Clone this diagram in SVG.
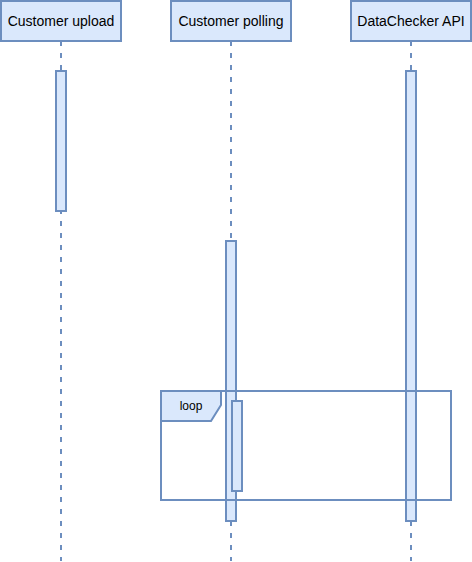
<svg xmlns="http://www.w3.org/2000/svg" width="472" height="562" viewBox="0 0 472 562">
<style>
.box{fill:#dae8fc;stroke:#6c8ebf;stroke-width:2}
.life{fill:none;stroke:#6c8ebf;stroke-width:2;stroke-dasharray:5 7}
.frame{fill:none;stroke:#6c8ebf;stroke-width:2}
.lbl{font-family:"Liberation Sans",Arial,sans-serif;font-size:14px;fill:#000;text-anchor:middle;dominant-baseline:central}
.small{font-size:12px}
</style>
<rect width="472" height="562" fill="#fff"/>
<g id="connectors">
<line class="life" x1="61" y1="41" x2="61" y2="561"/>
<line class="life" x1="231" y1="41" x2="231" y2="561"/>
<line class="life" x1="411" y1="41" x2="411" y2="561"/>
</g>
<g id="customer-upload">
<rect class="box" x="1" y="1" width="120" height="40"/>
<text class="lbl" x="61" y="21">Customer upload</text>
</g>
<g id="customer-polling">
<rect class="box" x="171" y="1" width="120" height="40"/>
<text class="lbl" x="231" y="21">Customer polling</text>
</g>
<g id="datachecker-api">
<rect class="box" x="351" y="1" width="120" height="40"/>
<text class="lbl" x="411" y="21">DataChecker API</text>
</g>
<g id="activation-upload">
<rect class="box" x="56" y="71" width="10" height="140"/>
</g>
<g id="activation-polling">
<rect class="box" x="226" y="241" width="10" height="280"/>
</g>
<g id="activation-api">
<rect class="box" x="406" y="71" width="10" height="450"/>
</g>
<g id="loop">
<rect class="frame" x="161" y="391" width="290" height="109"/>
<path class="box" d="M161 391 H221 V405 L211 421 H161 Z"/>
<text class="lbl small" x="191" y="406">loop</text>
</g>
<g id="activation-polling-inner">
<rect class="box" x="232" y="401" width="10" height="90"/>
</g>
</svg>
